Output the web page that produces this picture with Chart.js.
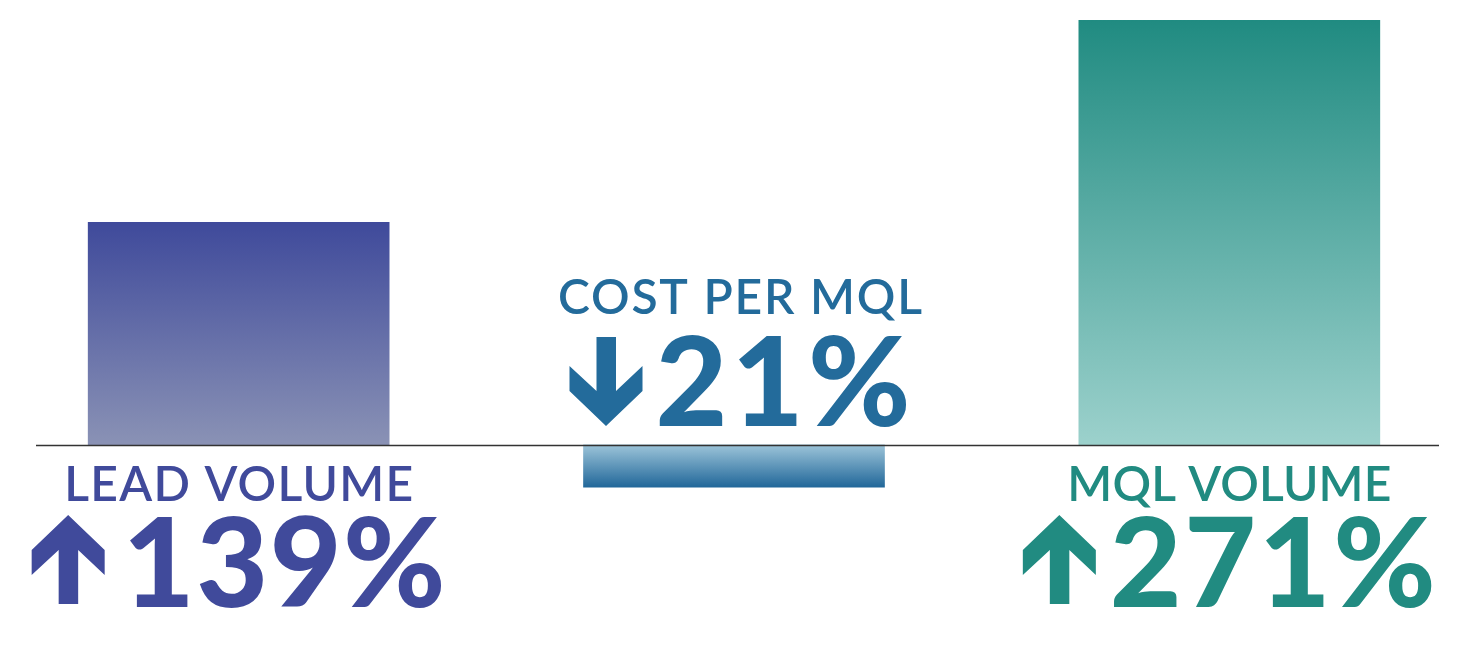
<!DOCTYPE html>
<html>
<head>
<meta charset="utf-8">
<style>
  html, body { margin:0; padding:0; background:#ffffff; overflow:hidden; width:1466px; height:648px; }
  #wrap { position:absolute; left:-9px; top:0; width:1486px; height:648px; }
</style>
<script src="https://cdn.jsdelivr.net/npm/chart.js@4/dist/chart.umd.min.js"></script>
</head>
<body>
<div id="wrap"><canvas id="c" width="1486" height="648"></canvas></div>
<script>
// ---- data ----
const categories = ['LEAD VOLUME', 'COST PER MQL', 'MQL VOLUME'];
const barValues = [142, -27, 271];          // bar heights
const changeValues = [139, -21, 271];       // percentage change labels
const axisMin = -129.5;
const axisMax = 271;

// ---- style ----
const textColors = ['#404A9B', '#236B9B', '#218B81'];
const gradStops = [
  ['#3F4A9B', '#8A92B5'],
  ['#9CC4D9', '#216799'],
  ['#208B81', '#9CD1CC']
];
const titleWidths = [349, 364, 324];
const numberWidths = [323, 255, 326];
const arrowGaps = [18, 13, 14];
const labelShift = [0, 6, 0];
const ARROW_W = 73, ARROW_H = 89;
const TITLE_FONT = '600 48px "Lato Semibold", Lato, sans-serif';
const NUMBER_FONT = '900 124px "Lato Black", Lato, sans-serif';

function barGradient(c) {
  const chart = c.chart;
  const { ctx, chartArea, scales } = chart;
  const stops = gradStops[c.dataIndex];
  if (!chartArea || !scales.y) return stops[0];
  const y = scales.y;
  const p0 = y.getPixelForValue(0), p1 = y.getPixelForValue(c.raw);
  const g = ctx.createLinearGradient(0, Math.min(p0, p1), 0, Math.max(p0, p1));
  g.addColorStop(0, stops[0]);
  g.addColorStop(1, stops[1]);
  return g;
}

const baselinePlugin = {
  id: 'baseline',
  afterDatasetsDraw(chart) {
    const { ctx, scales } = chart;
    const y0 = Math.round(scales.y.getPixelForValue(0)) + 0.5;
    ctx.save();
    ctx.strokeStyle = '#333333';
    ctx.lineWidth = 1.3;
    ctx.beginPath();
    ctx.moveTo(45, y0);
    ctx.lineTo(1448, y0);
    ctx.stroke();
    ctx.restore();
  }
};

function fittedText(ctx, text, font, target, x, y) {
  ctx.font = font;
  ctx.letterSpacing = '0px';
  const w0 = ctx.measureText(text).width;
  const n = text.length;
  const ls = n > 1 ? (target - w0) / (n - 1) : 0;
  ctx.letterSpacing = ls + 'px';
  ctx.textAlign = 'left';
  ctx.fillText(text, x, y);
  ctx.letterSpacing = '0px';
}

function drawArrow(ctx, left, top, up) {
  const pts = [[36.5,0],[73,35],[73,60],[46.5,35],[46.5,89],[27,89],[27,35],[0,60],[0,35]];
  ctx.beginPath();
  pts.forEach((p, k) => {
    const px = left + p[0];
    const py = up ? top + p[1] : top + (ARROW_H - p[1]);
    if (k === 0) ctx.moveTo(px, py); else ctx.lineTo(px, py);
  });
  ctx.closePath();
  ctx.fill();
}

const labelPlugin = {
  id: 'labels',
  afterDraw(chart) {
    const { ctx, scales } = chart;
    const y0 = scales.y.getPixelForValue(0);
    ctx.save();
    ctx.textBaseline = 'alphabetic';
    categories.forEach((cat, i) => {
      const cx = scales.x.getPixelForValue(i) + labelShift[i];
      const positive = barValues[i] >= 0;
      const titleBase = positive ? y0 + 56 : y0 - 131;
      const numBase = positive ? y0 + 162 : y0 - 19;
      ctx.fillStyle = textColors[i];
      fittedText(ctx, cat, TITLE_FONT, titleWidths[i], cx - titleWidths[i] / 2, titleBase);
      const label = Math.abs(changeValues[i]) + '%';
      const up = changeValues[i] >= 0;
      const blockW = ARROW_W + arrowGaps[i] + numberWidths[i];
      const left = cx - blockW / 2;
      drawArrow(ctx, left, up ? numBase - 92 : numBase - 89, up);
      fittedText(ctx, label, NUMBER_FONT, numberWidths[i], left + ARROW_W + arrowGaps[i], numBase);
    });
    ctx.restore();
  }
};

new Chart(document.getElementById('c'), {
  type: 'bar',
  data: {
    labels: categories,
    datasets: [{
      data: barValues,
      backgroundColor: barGradient,
      borderWidth: 0,
      barThickness: 301
    }]
  },
  options: {
    responsive: false,
    animation: false,
    devicePixelRatio: 1,
    layout: { padding: { top: 20, bottom: 0, left: 0, right: 0 } },
    scales: {
      x: { display: false, offset: true },
      y: { display: false, min: axisMin, max: axisMax }
    },
    plugins: { legend: { display: false }, tooltip: { enabled: false } }
  },
  plugins: [baselinePlugin, labelPlugin]
});
</script>
</body>
</html>
